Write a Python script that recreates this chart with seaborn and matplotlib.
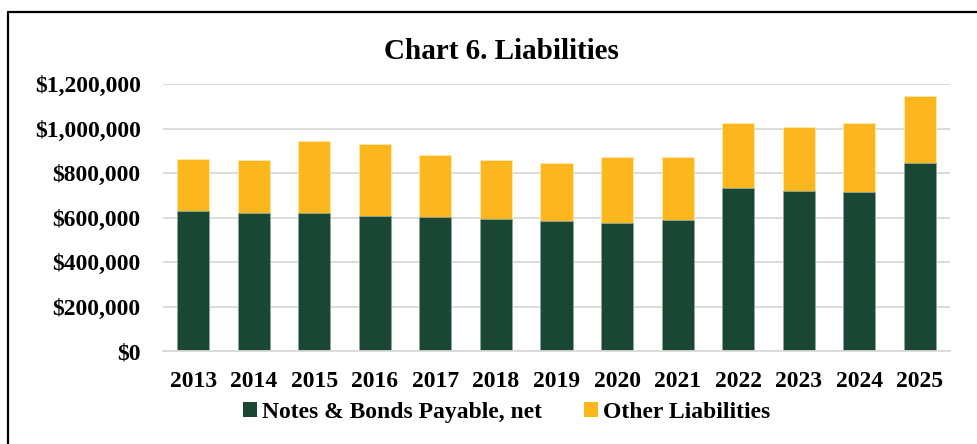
import matplotlib
matplotlib.use('Agg')
from matplotlib import pyplot as plt
from matplotlib.lines import Line2D
from matplotlib.patches import Patch
from matplotlib.ticker import FuncFormatter
import seaborn as sns
import pandas as pd

years = ['2013', '2014', '2015', '2016', '2017', '2018', '2019',
         '2020', '2021', '2022', '2023', '2024', '2025']
notes_bonds = [629000, 622000, 620000, 608000, 602000, 593000, 584000,
               575000, 589000, 734000, 719000, 713000, 845000]
other_liab = [236000, 239000, 325000, 322000, 280000, 268000, 261000,
              297000, 284000, 289000, 289000, 314000, 302000]

green = '#1A4734'
gold = '#FDB71E'

df = pd.DataFrame({'Year': years, 'Notes': notes_bonds, 'Other': other_liab})
df['Total'] = df['Notes'] + df['Other']

sns.set_style('white')
plt.rcParams['font.family'] = ['Liberation Serif', 'DejaVu Serif']
plt.rcParams['font.weight'] = 'bold'
plt.rcParams['text.color'] = 'black'
plt.rcParams['xtick.color'] = 'black'
plt.rcParams['ytick.color'] = 'black'

fig = plt.figure(figsize=(9.78, 4.44), dpi=100)
ax = fig.add_axes([0.1667, 0.2088, 0.8047, 0.602])

sns.barplot(data=df, x='Year', y='Total', color=gold, width=0.53,
            saturation=1, ax=ax, edgecolor='#FFE9A8', linewidth=0.6)
sns.barplot(data=df, x='Year', y='Notes', color=green, width=0.53,
            saturation=1, ax=ax, edgecolor='#8FA89C', linewidth=0.6)

ax.set_ylim(0, 1200000)
ax.set_yticks(range(0, 1200001, 200000))
ax.yaxis.set_major_formatter(FuncFormatter(lambda v, p: '${:,.0f}'.format(v)))
ax.grid(axis='y', color='#D9D9D9', linewidth=1.3)
ax.set_axisbelow(True)
for s in ['top', 'right', 'left']:
    ax.spines[s].set_visible(False)
ax.spines['bottom'].set_color('#D9D9D9')
ax.spines['bottom'].set_linewidth(1.3)
ax.set_xlabel('')
ax.set_ylabel('')
ax.tick_params(axis='y', length=0, pad=16, labelsize=17, labelcolor='black')
ax.tick_params(axis='x', length=0, pad=14, labelsize=17, labelcolor='black')
for lbl in ax.get_xticklabels() + ax.get_yticklabels():
    lbl.set_fontweight('bold')

fig.text(0.513, 0.885, 'Chart 6. Liabilities', ha='center', va='center',
         fontsize=21, fontweight='bold', color='black')

handles = [Patch(facecolor=green, edgecolor='none'),
           Patch(facecolor=gold, edgecolor='none')]
fig.legend(handles, ['Notes & Bonds Payable, net', 'Other Liabilities'],
           loc='center', bbox_to_anchor=(0.518, 0.072), ncol=2, frameon=False,
           prop={'size': 17, 'weight': 'bold'}, handlelength=0.6,
           handleheight=0.6, handletextpad=0.2, columnspacing=1.8)

# outer frame (only the left and top edges show)
fig.add_artist(Line2D([0.008, 0.008], [0, 0.973], color='black', linewidth=1.6,
                      transform=fig.transFigure))
fig.add_artist(Line2D([0.008, 1.0], [0.973, 0.973], color='black', linewidth=1.6,
                      transform=fig.transFigure))

plt.savefig('out.png', dpi=100)
